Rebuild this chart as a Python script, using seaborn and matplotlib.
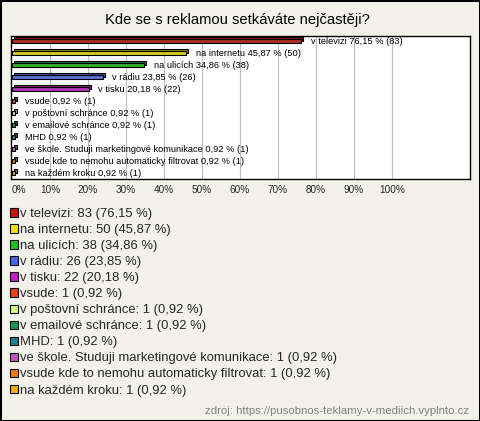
import numpy as np
import pandas as pd
import matplotlib
matplotlib.use("Agg")
import matplotlib.pyplot as plt
import matplotlib.transforms as mtransforms
from matplotlib.patches import Patch, Rectangle
import seaborn as sns

categories = ["v televizi", "na internetu", "na ulicích", "v rádiu", "v tisku", "vsude",
              "v poštovní schránce", "v emailové schránce", "MHD",
              "ve škole. Studuji marketingové komunikace",
              "vsude kde to nemohu automaticky filtrovat", "na každém kroku"]
counts = [83, 50, 38, 26, 22, 1, 1, 1, 1, 1, 1, 1]
percents = [76.15, 45.87, 34.86, 23.85, 20.18, 0.92, 0.92, 0.92, 0.92, 0.92, 0.92, 0.92]
colors = ["#c41a0c", "#f2e20a", "#1ec21e", "#4466e8", "#c41ccc", "#e8400c",
          "#d2fa82", "#0e9656", "#1e7e96", "#c058c0", "#f07c0a", "#eeb00a"]

df = pd.DataFrame({"cat": categories, "pct": percents, "n": counts})

sns.set_theme(style="white")
plt.rcParams['font.family'] = ['Liberation Sans', 'DejaVu Sans']

bg = "#f3f2ea"
W, H = 480, 421
fig = plt.figure(figsize=(W / 100, H / 100), dpi=100, facecolor=bg)

def fx(px):
    return px / W

def fy(py):
    return 1 - py / H

ax = fig.add_axes([fx(11), fy(179), fx(470) - fx(11), fy(36) - fy(179)])
ax.set_facecolor("white")

# shadow (3d top) bars, drawn first and shifted up-right
dark = [tuple(np.array(matplotlib.colors.to_rgb(c)) * 0.7) for c in colors]
sns.barplot(data=df, x="pct", y="cat", hue="cat", palette=dark, orient="h",
            width=0.36, edgecolor="black", linewidth=0.8, legend=False, ax=ax)
shift = mtransforms.ScaledTranslation(2 / 100, 2 / 100, fig.dpi_scale_trans)
for p in ax.patches:
    p.set_transform(ax.transData + shift)

sns.barplot(data=df, x="pct", y="cat", hue="cat", palette=colors, orient="h",
            width=0.36, edgecolor="black", linewidth=0.8, legend=False, ax=ax)

labels = [f"{c} {format(p, '.2f').replace('.', ',')} % ({n})"
          for c, p, n in zip(categories, percents, counts)]
front = ax.containers[len(ax.containers) // 2:]
for cont, lab in zip(front, labels):
    ax.bar_label(cont, labels=[lab], padding=7, fontsize=6.7, color="black")

ax.set_xlim(-0.26, 120.5)
ax.set_ylim(11.5, -0.42)
ax.set_xticks(range(0, 101, 10))
ax.set_xticklabels([f"{v}%" for v in range(0, 101, 10)], fontsize=7.2)
ax.xaxis.get_majorticklabels()[0].set_horizontalalignment("left")
ax.tick_params(axis="x", length=0, pad=4.5)
ax.set_yticks([])
ax.set_xlabel("")
ax.set_ylabel("")
for v in range(10, 101, 10):
    ax.axvline(v, color="#bdbdbd", linewidth=0.8, zorder=0)
for s in ax.spines.values():
    s.set_color("black")
    s.set_linewidth(1)

fig.text(fx(237), fy(20), "Kde se s reklamou setkáváte nejčastěji?", ha="center", va="center",
         fontsize=10.6, color="black")

leg_labels = [f"{c}: {n} ({format(p, '.2f').replace('.', ',')} %)"
              for c, p, n in zip(categories, percents, counts)]
handles = [Patch(facecolor=c, edgecolor="black", linewidth=0.8) for c in colors]
fig.legend(handles, leg_labels, loc="upper left", bbox_to_anchor=(fx(10), fy(208)),
           frameon=False, fontsize=9.4, handlelength=0.6, handleheight=0.6,
           handletextpad=0.2, labelspacing=0.31, borderaxespad=0, borderpad=0)

fig.text(fx(469), fy(411), "zdroj: https://pusobnos-teklamy-v-mediich.vyplnto.cz", ha="right",
         va="center", fontsize=8.2, color="#808080")

fig.patches.append(Rectangle((0, 0), 1, 1, transform=fig.transFigure, fill=False,
                             edgecolor="black", linewidth=2.2))

fig.savefig("out.png", dpi=100, facecolor=bg)
